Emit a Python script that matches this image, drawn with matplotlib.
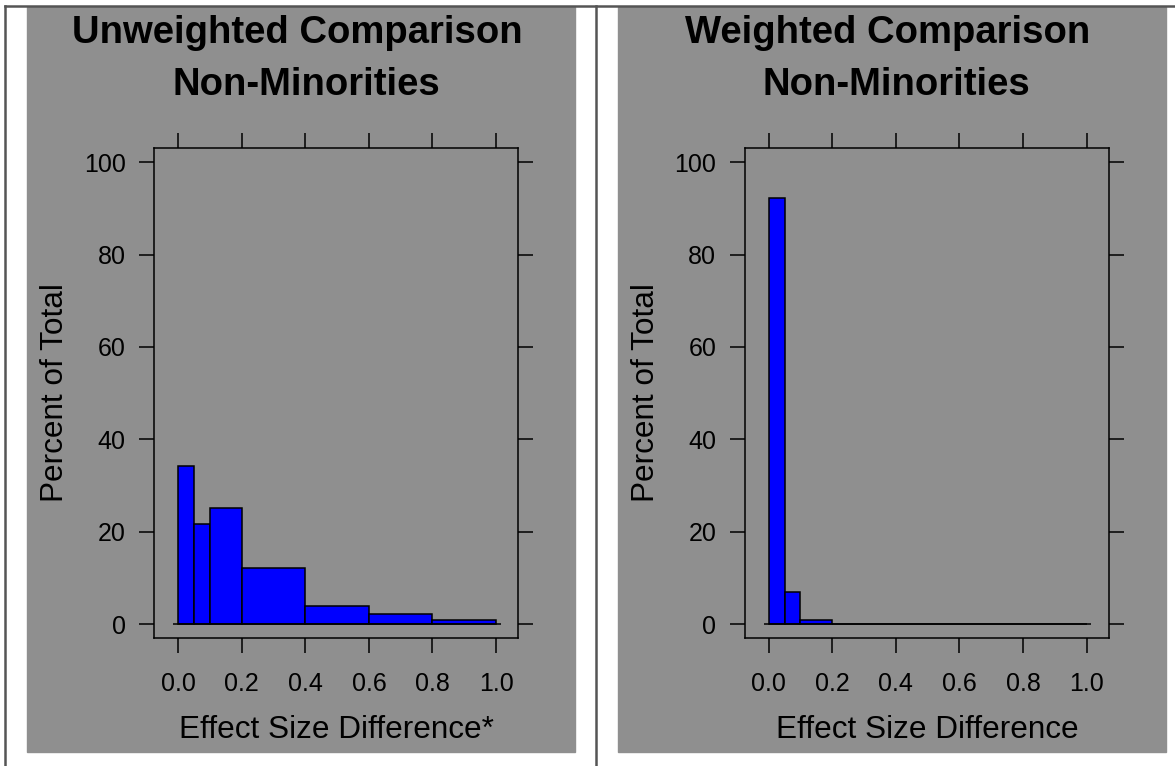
import numpy as np
import matplotlib
matplotlib.use("Agg")
import matplotlib.pyplot as plt
from matplotlib.patches import Rectangle
from matplotlib.lines import Line2D

plt.rcParams['font.family'] = ['Liberation Sans', 'DejaVu Sans']

# histogram data (percent of total per bin)
bin_edges = [0.0, 0.05, 0.1, 0.2, 0.4, 0.6, 0.8, 1.0]
unweighted_pct = [34.3, 21.7, 25.2, 12.2, 3.9, 2.2, 0.9]
weighted_pct = [92.2, 6.9, 0.9, 0.1, 0.1, 0.1, 0.1]

titles = [["Unweighted Comparison", "Non-Minorities"],
          ["Weighted Comparison", "Non-Minorities"]]
xlabels = ["Effect Size Difference*", "Effect Size Difference"]
ylabel = "Percent of Total"
xticks = [0.0, 0.2, 0.4, 0.6, 0.8, 1.0]
yticks = [0, 20, 40, 60, 80, 100]

W, H = 1175, 766
def fx(px):
    return px / W
def fy(py):
    return 1 - py / H

fig = plt.figure(figsize=(W / 100, H / 100), dpi=100)
fig.patch.set_facecolor("white")

panel_gray = "#8f8f8f"
border = "#555555"

# table-ish border lines
for xs, ys in [([5, 1175], [6, 6]), ([5, 5], [6, 766]), ([596, 596], [6, 766])]:
    fig.add_artist(Line2D([fx(v) for v in xs], [fy(v) for v in ys],
                          transform=fig.transFigure, color=border, lw=1.8))

offsets = [0, 590.5]
data = [unweighted_pct, weighted_pct]
widths = np.diff(bin_edges)

for i, off in enumerate(offsets):
    # gray panel background
    fig.add_artist(Rectangle((fx(27 + off), fy(752)), (575 - 27) / W, (752 - 7) / H,
                             transform=fig.transFigure, color=panel_gray, zorder=0))

    ax = fig.add_axes([fx(154.3 + off), fy(638), 364 / W, (638 - 148.3) / H])
    ax.set_facecolor("none")
    ax.bar(bin_edges[:-1], data[i], width=widths, align="edge",
           color="#0000ff", edgecolor="black", linewidth=1.1, zorder=3)
    ax.hlines(0, -0.015, 1.015, color="black", lw=1.1, zorder=4)

    ax.set_xlim(-0.075, 1.07)
    ax.set_ylim(-3, 103)
    ax.set_xticks(xticks)
    ax.set_xticklabels([f"{t:.1f}" for t in xticks])
    ax.set_yticks(yticks)
    ax.tick_params(direction="out", length=10.5, width=1.1, top=True, right=True,
                   labeltop=False, labelright=False, labelsize=18, colors="black")
    ax.tick_params(axis="x", pad=14)
    ax.tick_params(axis="y", pad=10)
    for s in ax.spines.values():
        s.set_linewidth(1.1)

    cx = 297 + off
    fig.text(fx(cx), fy(42.7), titles[i][0], ha="center", va="baseline",
             fontsize=27.5, fontweight="bold")
    fig.text(fx(cx + 9), fy(95), titles[i][1], ha="center", va="baseline",
             fontsize=27.5, fontweight="bold")

    fig.text(fx(336.5 + off), fy(738.3), xlabels[i], ha="center", va="baseline",
             fontsize=22.7)
    fig.text(fx(63.3 + off), fy(393), ylabel, ha="center", va="baseline",
             rotation=90, rotation_mode="anchor", fontsize=22.7)

fig.savefig("out.png", dpi=100)
